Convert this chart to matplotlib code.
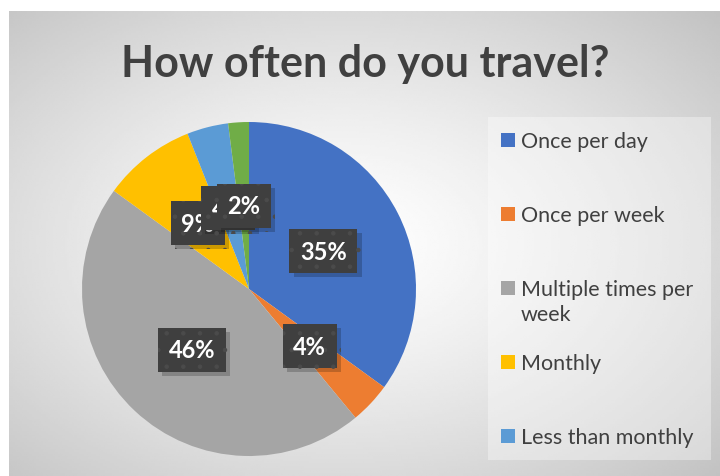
import matplotlib
matplotlib.use("Agg")
import matplotlib.pyplot as plt
import matplotlib.patheffects as pe
from matplotlib.patches import Rectangle
import numpy as np

categories = ["Once per day", "Once per week", "Multiple times per\nweek",
              "Monthly", "Less than monthly", "Other"]
shares = [35, 4, 46, 9, 4, 2]
colors = ["#4472C4", "#ED7D31", "#A5A5A5", "#FFC000", "#5B9BD5", "#70AD47"]
legend_shown = 5  # last entry is cut off in the original legend

plt.rcParams["hatch.linewidth"] = 0.8

W, H = 720, 477
fig = plt.figure(figsize=(W / 100, H / 100), dpi=100)
fig.patch.set_facecolor("white")

# chart area with radial gray gradient
bg = fig.add_axes([9 / W, 0, 1 - 9 / W, (H - 12) / H])
yy, xx = np.mgrid[0:200, 0:300]
d = np.hypot((xx - 140) / 300, (yy - 100) / 200)
shade = 1 - 0.24 * (d / d.max()) ** 1.3
bg.imshow(shade, cmap="gray", vmin=0, vmax=1, aspect="auto",
          extent=[0, 1, 0, 1], interpolation="bilinear")
bg.set_axis_off()

fig.text(365 / W, 1 - 64 / H, "How often do you travel?", ha="center", va="center",
         fontsize=31, fontweight="bold", color="#404040", family="Lato")

# pie
r = 167
ax = fig.add_axes([(249 - r) / W, (H - 290 - r) / H, 2 * r / W, 2 * r / H])
wedges, _, autotexts = ax.pie(
    shares, colors=colors, startangle=90, counterclock=False,
    autopct="%1.0f%%", pctdistance=0.5, radius=1,
    textprops=dict(color="white", fontsize=17, fontweight="bold", family="Lato"))
ax.set_xlim(-1, 1)
ax.set_ylim(-1, 1)
ax.set_aspect("equal")
ax.set_axis_off()

for t in autotexts:
    t.set_bbox(dict(boxstyle="square,pad=0.45", fc="#3f3f3f", ec="#4b4b4b",
                    lw=0, hatch="."))
    t.get_bbox_patch().set_path_effects(
        [pe.SimplePatchShadow(offset=(3, -3), shadow_rgbFace="#000000", alpha=0.2),
         pe.Normal()])

# legend
lax = fig.add_axes([0, 0, 1, 1])
lax.set_xlim(0, W)
lax.set_ylim(H, 0)
lax.set_axis_off()
lax.add_patch(Rectangle((488, 118), 223, 343, fc="white", alpha=0.35, ec="none"))
for i in range(legend_shown):
    yc = 141 + i * 74
    lax.add_patch(Rectangle((501, yc - 7), 14, 14, fc=colors[i], ec="none"))
    lax.text(521, yc - 9, categories[i], va="top", ha="left", fontsize=15.5,
             color="#404040", family="Lato", linespacing=1.3)

fig.savefig("out.png", dpi=100)
